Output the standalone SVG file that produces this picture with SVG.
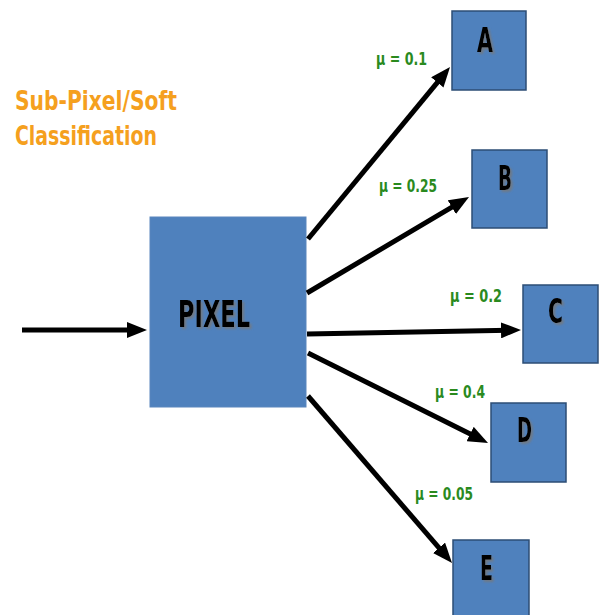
<svg xmlns="http://www.w3.org/2000/svg" width="604" height="615" viewBox="0 0 604 615">
<style>
.box{fill:#4f81bd;stroke:#2c4d75;stroke-width:1.5}
.big{fill:#4f81bd;stroke:#5a86bd;stroke-width:1}
.lbl{font-family:"Liberation Sans Narrow","DejaVu Sans Condensed","Liberation Sans",sans-serif;font-weight:bold;fill:#000;filter:url(#sh)}
.mu{font-family:"Liberation Sans Narrow","DejaVu Sans Condensed","Liberation Sans",sans-serif;font-weight:bold;font-size:18px;fill:#2a8a1e}
.title{font-family:"Liberation Sans Narrow","DejaVu Sans Condensed","Liberation Sans",sans-serif;font-weight:bold;font-size:27px;fill:#f5a01e}
.ln{stroke:#000;stroke-width:5;fill:none;marker-end:url(#ah)}
</style>
<defs>
<marker id="ah" markerUnits="userSpaceOnUse" markerWidth="20" markerHeight="16" refX="8" refY="8" orient="auto">
<path d="M0,0 L20,8 L0,16 Z" fill="#000"/>
</marker>
<filter id="sh" x="-20%" y="-20%" width="150%" height="150%">
<feDropShadow dx="2" dy="2" stdDeviation="0.8" flood-color="#777" flood-opacity="0.8"/>
</filter>
</defs>
<g id="title">
<text class="title" x="15" y="110" textLength="162" lengthAdjust="spacingAndGlyphs">Sub-Pixel/Soft</text>
<text class="title" x="15" y="145" textLength="142" lengthAdjust="spacingAndGlyphs">Classification</text>
</g>
<g id="pixel">
<rect class="big" x="150" y="217" width="156" height="190"/>
<text class="lbl" x="178" y="327" font-size="37" textLength="72" lengthAdjust="spacingAndGlyphs">PIXEL</text>
</g>
<g id="nodeA">
<rect class="box" x="452" y="11" width="74" height="79"/>
<text class="lbl" x="477" y="52" font-size="34" textLength="16" lengthAdjust="spacingAndGlyphs">A</text>
</g>
<g id="nodeB">
<rect class="box" x="472" y="150" width="75" height="78"/>
<text class="lbl" x="498" y="190" font-size="34" textLength="14" lengthAdjust="spacingAndGlyphs">B</text>
</g>
<g id="nodeC">
<rect class="box" x="523" y="285" width="75" height="78"/>
<text class="lbl" x="548" y="323" font-size="34" textLength="15" lengthAdjust="spacingAndGlyphs">C</text>
</g>
<g id="nodeD">
<rect class="box" x="491" y="403" width="75" height="79"/>
<text class="lbl" x="517" y="442" font-size="34" textLength="15" lengthAdjust="spacingAndGlyphs">D</text>
</g>
<g id="nodeE">
<rect class="box" x="453" y="540" width="76" height="80"/>
<text class="lbl" x="480" y="580" font-size="34" textLength="13" lengthAdjust="spacingAndGlyphs">E</text>
</g>
<g id="connectors">
<line class="ln" x1="22" y1="330" x2="135" y2="330"/>
<line class="ln" x1="308" y1="239" x2="442.4" y2="76.3"/>
<line class="ln" x1="307" y1="293" x2="458.7" y2="203.1"/>
<line class="ln" x1="307" y1="334" x2="509" y2="330.2"/>
<line class="ln" x1="308" y1="353" x2="477.3" y2="437.6"/>
<line class="ln" x1="308" y1="396" x2="444.2" y2="553.9"/>
</g>
<g id="labels">
<text class="mu" x="376" y="65" textLength="51" lengthAdjust="spacingAndGlyphs">μ = 0.1</text>
<text class="mu" x="379" y="192" textLength="58" lengthAdjust="spacingAndGlyphs">μ = 0.25</text>
<text class="mu" x="450" y="302" textLength="52" lengthAdjust="spacingAndGlyphs">μ = 0.2</text>
<text class="mu" x="435" y="398" textLength="50" lengthAdjust="spacingAndGlyphs">μ = 0.4</text>
<text class="mu" x="415" y="500" textLength="58" lengthAdjust="spacingAndGlyphs">μ = 0.05</text>
</g>
</svg>
